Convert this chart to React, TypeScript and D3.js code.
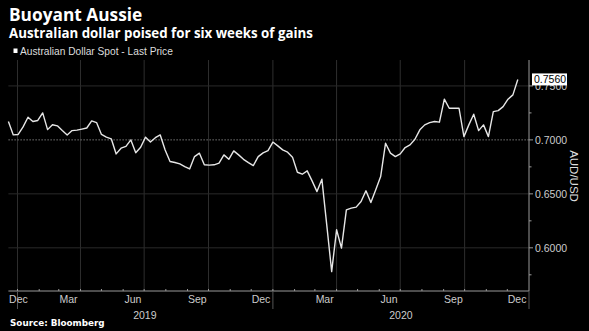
import React from "react";
import * as d3 from "d3";

const TITLE = "Buoyant Aussie";
const SUBTITLE = "Australian dollar poised for six weeks of gains";
const LEGEND = "Australian Dollar Spot - Last Price";
const SOURCE = "Source: Bloomberg";
const Y_TITLE = "AUD/USD";

const START_DATE = "2018-12-19"; // first weekly observation
const VALUES = [
  0.717, 0.7046, 0.705, 0.712, 0.721, 0.717, 0.718, 0.725, 0.7095, 0.714,
  0.713, 0.7086, 0.7046, 0.7086, 0.709, 0.71, 0.711, 0.7176, 0.716, 0.705,
  0.7025, 0.701, 0.687, 0.6923, 0.694, 0.7, 0.688, 0.6932, 0.7025, 0.698,
  0.702, 0.7046, 0.6907, 0.68, 0.679, 0.6778, 0.6753, 0.6731, 0.6845, 0.6877,
  0.6769, 0.6766, 0.6769, 0.6784, 0.6861, 0.682, 0.6898, 0.6861, 0.682, 0.679,
  0.6762, 0.6845, 0.688, 0.69, 0.698, 0.6944, 0.6907, 0.6886, 0.684, 0.67,
  0.6682, 0.6713, 0.662, 0.6521, 0.6636, 0.621, 0.578, 0.6167, 0.5997, 0.6352,
  0.6368, 0.6377, 0.6429, 0.6528, 0.642, 0.6537, 0.666, 0.6969, 0.6877, 0.6845,
  0.687, 0.6929, 0.6954, 0.7006, 0.7093, 0.7139, 0.716, 0.717, 0.7164, 0.7377,
  0.7293, 0.7293, 0.7293, 0.703, 0.7139, 0.7238, 0.7086, 0.7139, 0.703, 0.7262,
  0.7271, 0.7308, 0.7377, 0.7417, 0.756,
];
const LAST_LABEL = "0.7560";

const Y_TICKS = [0.6, 0.65, 0.7, 0.75];
const Y_MINOR = [0.575, 0.625, 0.675, 0.725];
const MONTH_LABELS = ["Dec", "Mar", "Jun", "Sep", "Dec", "Mar", "Jun", "Sep", "Dec"];
const MONTH_LABEL_DATES = [
  "2018-12-15", "2019-03-15", "2019-06-15", "2019-09-15", "2019-12-15",
  "2020-03-15", "2020-06-15", "2020-09-15", "2020-12-15",
];
const YEAR_LABELS = ["2019", "2020"];
const YEAR_LABEL_DATES = ["2019-07-02", "2020-07-02"];
const YEAR_BOUNDS = ["2019-01-01", "2020-01-01", "2021-01-01"];
const X_DOMAIN = ["2018-12-19", "2021-01-01"];

const parse = (s: string) => {
  const [y, m, d] = s.split("-").map(Number);
  return new Date(y, m - 1, d);
};

export default function App() {
  const W = 589, H = 331;
  const left = 8.4, right = 529, top = 60, bottom = 291;
  const start = parse(START_DATE);
  const data = VALUES.map((v, i) => ({ date: d3.timeDay.offset(start, 7 * i), v }));
  const x = d3.scaleTime().domain(X_DOMAIN.map(parse)).range([left, right]);
  const y = d3.scaleLinear().domain([0.56, 0.774]).range([bottom, top]);
  const line = d3.line<{ date: Date; v: number }>().x((d) => x(d.date)).y((d) => y(d.v));

  const qStarts = d3.timeMonth.every(3)!.range(parse("2019-01-01"), parse("2021-01-01"));
  const months = d3.timeMonth.range(parse("2019-01-01"), parse("2021-01-01"));
  const font = "'Liberation Sans', Arial, sans-serif";
  const last = data[data.length - 1];

  return (
    <svg width={W} height={H} style={{ position: "absolute", left: 0, top: 0, background: "#000" }}>
      <rect width={W} height={H} fill="#000" />
      <text x={9} y={20.5} fill="#fff" fontFamily="'Open Sans', sans-serif" fontWeight="bold" fontSize={17.3}>{TITLE}</text>
      <text x={9} y={37.5} fill="#fff" fontFamily="'Open Sans', sans-serif" fontWeight="bold" fontSize={13.3}>{SUBTITLE}</text>
      <rect x={13.5} y={48.5} width={4} height={4.5} fill="#fff" />
      <text x={20} y={55} fill="#ddd" fontFamily={font} fontSize={10.2}>{LEGEND}</text>

      {/* vertical gridlines */}
      {qStarts.map((d, i) => (
        <line key={"vg" + i} x1={x(d)} x2={x(d)} y1={top} y2={bottom} stroke="#2e2e2e" strokeWidth={1} />
      ))}
      {/* horizontal gridlines */}
      {Y_TICKS.map((t, i) => (
        <line key={"hg" + i} x1={left} x2={right} y1={y(t)} y2={y(t)}
          stroke={t === 0.7 ? "#777" : "#2a2a2a"} strokeWidth={1}
          strokeDasharray={t === 0.7 ? "1.5,1.5" : undefined} />
      ))}

      {/* axes */}
      <line x1={left} x2={right} y1={bottom} y2={bottom} stroke="#999" strokeWidth={1} />
      <line x1={right} x2={right} y1={top} y2={bottom} stroke="#999" strokeWidth={1} />
      {months.map((d, i) => (
        <line key={"mt" + i} x1={x(d)} x2={x(d)} y1={bottom - 2} y2={bottom} stroke="#999" />
      ))}
      {YEAR_BOUNDS.map((s, i) => (
        <line key={"yb" + i} x1={x(parse(s))} x2={x(parse(s))} y1={bottom} y2={bottom + 18} stroke="#555" />
      ))}
      {MONTH_LABELS.map((m, i) => {
        const px = Math.max(x(parse(MONTH_LABEL_DATES[i])), left + 10);
        return (
          <text key={"ml" + i} x={px} y={302.5} fill="#ccc" fontFamily={font} fontSize={10.5} textAnchor="middle">{m}</text>
        );
      })}
      {YEAR_LABELS.map((yl, i) => (
        <text key={"yl" + i} x={x(parse(YEAR_LABEL_DATES[i]))} y={318.5} fill="#ccc" fontFamily={font} fontSize={10.5} textAnchor="middle">{yl}</text>
      ))}

      {/* y ticks */}
      {Y_TICKS.map((t, i) => (
        <g key={"yt" + i}>
          <line x1={right} x2={right + 4} y1={y(t)} y2={y(t)} stroke="#999" />
          <text x={right + 6} y={y(t) + 4} fill="#ccc" fontFamily={font} fontSize={10.5}>{t.toFixed(4)}</text>
        </g>
      ))}
      {Y_MINOR.map((t, i) => (
        <line key={"ym" + i} x1={right} x2={right + 2.5} y1={y(t)} y2={y(t)} stroke="#999" />
      ))}
      <text transform={`translate(570,176) rotate(90)`} fill="#ddd" fontFamily={font} fontSize={11.5} textAnchor="middle">{Y_TITLE}</text>

      {/* series */}
      <path d={line(data) || ""} fill="none" stroke="#e6e6e6" strokeWidth={1.4} strokeLinejoin="round" />

      {/* last value label */}
      <g>
        <rect x={right + 3} y={y(last.v) - 6} width={35} height={12} fill="#fff" />
        <text x={right + 5} y={y(last.v) + 4} fill="#000" fontFamily={font} fontSize={10.5}>{LAST_LABEL}</text>
      </g>

      <text x={10} y={326} fill="#fff" fontFamily="'DejaVu Sans', sans-serif" fontWeight="bold" fontSize={8.8}>{SOURCE}</text>
    </svg>
  );
}
